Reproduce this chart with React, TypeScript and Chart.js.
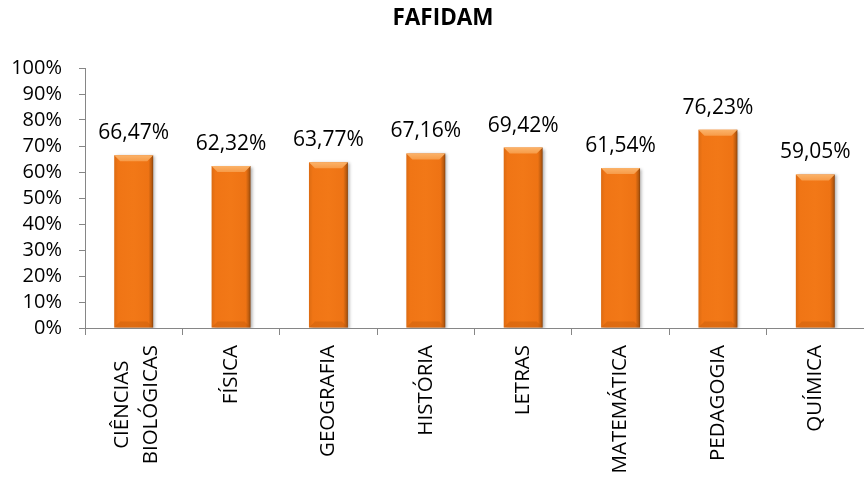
import React, { useEffect, useRef } from "react";
import { Chart, registerables } from "chart.js";

Chart.register(...registerables);

const TITLE = "FAFIDAM";
const CATEGORIES: (string | string[])[] = [
  ["CIÊNCIAS", "BIOLÓGICAS"],
  "FÍSICA",
  "GEOGRAFIA",
  "HISTÓRIA",
  "LETRAS",
  "MATEMÁTICA",
  "PEDAGOGIA",
  "QUÍMICA",
];
const VALUES = [66.47, 62.32, 63.77, 67.16, 69.42, 61.54, 76.23, 59.05];
const Y_MIN = 0;
const Y_MAX = 100;
const Y_STEP = 10;

const FONT = "'Open Sans', 'Noto Sans', sans-serif";
const BAR_PCT = 0.4;
const X_FONT_SIZE = 20.5;
const X_LINE_HEIGHT = 1.42;

const fmt = (v: number) => v.toFixed(2).replace(".", ",") + "%";

export default function App() {
  const ref = useRef<HTMLCanvasElement | null>(null);

  useEffect(() => {
    document.body.style.margin = "0";
    const canvas = ref.current;
    if (!canvas) return;

    const barGradient = (context: any) => {
      const chart = context.chart;
      const xs = chart.scales && chart.scales.x;
      if (!xs || !chart.chartArea) return "#F07515";
      const cx = xs.getPixelForValue(context.dataIndex);
      const w = (xs.width / CATEGORIES.length) * BAR_PCT;
      const g = chart.ctx.createLinearGradient(cx - w / 2, 0, cx + w / 2, 0);
      g.addColorStop(0, "#DC6B12");
      g.addColorStop(0.1, "#F07515");
      g.addColorStop(0.5, "#F27817");
      g.addColorStop(0.88, "#EE7314");
      g.addColorStop(0.96, "#B95A0E");
      g.addColorStop(1, "#8A420A");
      return g;
    };

    const labelCenterPlugin = {
      id: "labelCenter",
      beforeDraw(chart: any) {
        const xs = chart.scales.x;
        const items = xs.getLabelItems();
        const ctx = chart.ctx;
        items.forEach((it: any) => {
          if (!Array.isArray(it.label) || it.label.length < 2 || it._centered) return;
          ctx.save();
          ctx.font = it.font.string;
          const maxW = Math.max(...it.label.map((s: string) => ctx.measureText(s).width));
          ctx.restore();
          const n = it.label.length;
          it.options.textAlign = "center";
          it.options.translation[1] += maxW / 2;
          it.options.translation[0] -= ((n - 1) * it.font.lineHeight) / 2 - 3;
          it._centered = true;
        });
      },
    };

    const shadowPlugin = {
      id: "barShadow",
      beforeDatasetsDraw(chart: any) {
        const ctx = chart.ctx;
        ctx.save();
        ctx.shadowColor = "rgba(0,0,0,0.3)";
        ctx.shadowOffsetX = 2;
        ctx.shadowOffsetY = 1;
        ctx.shadowBlur = 3;
      },
      afterDatasetsDraw(chart: any) {
        chart.ctx.restore();
      },
    };

    const decoPlugin = {
      id: "barDeco",
      afterDatasetsDraw(chart: any) {
        const ctx = chart.ctx;
        const meta = chart.getDatasetMeta(0);
        ctx.save();
        meta.data.forEach((el: any, i: number) => {
          const { x, y, base, width } = el.getProps(["x", "y", "base", "width"], true);
          const l = x - width / 2;
          const r = x + width / 2;
          const b = 6;
          ctx.beginPath();
          ctx.moveTo(l, y);
          ctx.lineTo(r, y);
          ctx.lineTo(r - b, y + b);
          ctx.lineTo(l + b, y + b);
          ctx.closePath();
          const tg = ctx.createLinearGradient(0, y, 0, y + b);
          tg.addColorStop(0, "#FBB36A");
          tg.addColorStop(1, "#F79B48");
          ctx.fillStyle = tg;
          ctx.fill();
          ctx.beginPath();
          ctx.moveTo(l, base);
          ctx.lineTo(r, base);
          ctx.lineTo(r - b, base - b);
          ctx.lineTo(l + b, base - b);
          ctx.closePath();
          ctx.fillStyle = "rgba(185,85,10,0.35)";
          ctx.fill();

          ctx.fillStyle = "#000";
          ctx.font = `21px ${FONT}`;
          ctx.textAlign = "center";
          ctx.textBaseline = "alphabetic";
          ctx.fillText(fmt(VALUES[i]), x, y - 16);
        });
        ctx.restore();
      },
    };

    const titlePlugin = {
      id: "customTitle",
      afterDraw(chart: any) {
        const ctx = chart.ctx;
        ctx.save();
        ctx.fillStyle = "#000";
        ctx.font = `bold 22.5px ${FONT}`;
        ctx.textAlign = "center";
        ctx.textBaseline = "middle";
        ctx.fillText(TITLE, 443, 19);
        ctx.restore();
      },
    };

    const chart = new Chart(canvas, {
      type: "bar",
      data: {
        labels: CATEGORIES,
        datasets: [
          {
            data: VALUES,
            backgroundColor: barGradient,
            borderWidth: 0,
            barPercentage: BAR_PCT,
            categoryPercentage: 1,
          },
        ],
      },
      options: {
        responsive: false,
        animation: false,
        layout: { padding: { top: 68, left: 0, right: 0, bottom: 0 } },
        plugins: {
          legend: { display: false },
          tooltip: { enabled: false },
          title: { display: false },
        },
        scales: {
          x: {
            grid: {
              offset: true,
              drawOnChartArea: false,
              drawTicks: true,
              tickLength: 7,
              color: "#868686",
            },
            border: { color: "#868686", width: 1 },
            ticks: {
              maxRotation: 90,
              minRotation: 90,
              autoSkip: false,
              padding: 10,
              color: "#000",
              font: { family: FONT, size: X_FONT_SIZE, lineHeight: X_LINE_HEIGHT },
            },
            afterFit(scale: any) {
              scale.height = 156;
              scale.paddingLeft = 0;
              scale.paddingRight = 0;
            },
          },
          y: {
            min: Y_MIN,
            max: Y_MAX,
            grid: {
              drawOnChartArea: false,
              drawTicks: true,
              tickLength: 6,
              color: "#868686",
            },
            border: { color: "#868686", width: 1 },
            ticks: {
              stepSize: Y_STEP,
              autoSkip: false,
              padding: 17,
              color: "#000",
              font: { family: FONT, size: 20, lineHeight: 1 },
              callback: (v: any) => `${v}%`,
            },
            afterFit(scale: any) {
              scale.width = 85;
              scale.paddingTop = 0;
              scale.paddingBottom = 0;
            },
          },
        },
      },
      plugins: [labelCenterPlugin, shadowPlugin, decoPlugin, titlePlugin],
    });

    return () => chart.destroy();
  }, []);

  return (
    <div style={{ width: 864, height: 484 }}>
      <canvas ref={ref} width={864} height={484} style={{ display: "block" }} />
    </div>
  );
}
